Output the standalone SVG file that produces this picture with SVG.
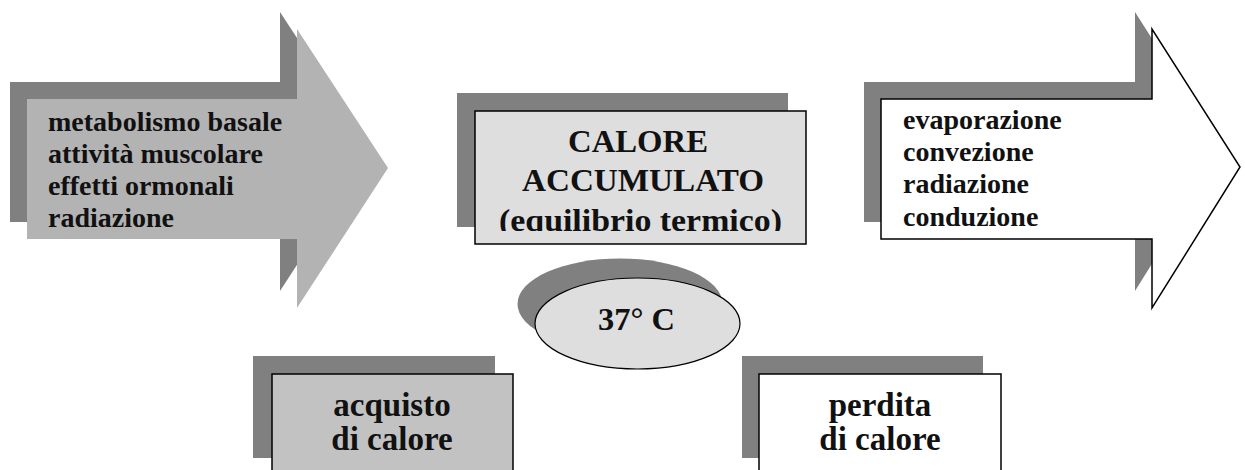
<svg xmlns="http://www.w3.org/2000/svg" width="1245" height="470" viewBox="0 0 1245 470">
  <style>
    .shadow { fill: #808080; stroke: none; }
    .t { font-family: "Liberation Serif", "Times New Roman", serif; font-weight: bold; fill: #111111; }
    .list { font-size: 28px; }
    .big { font-size: 31px; }
    .box { font-size: 33px; text-anchor: middle; }
  </style>
  <defs>
    <polygon id="arrowL" points="27,99 297,99 297,29 388,168 297,308 297,239 27,239"/>
    <polygon id="arrowR" points="881,99 1152,99 1152,29 1240,167 1152,308 1152,239 881,239"/>
    <clipPath id="clipCenter">
      <rect x="476" y="112" width="329" height="119"/>
    </clipPath>
  </defs>
  <rect width="1245" height="470" fill="#ffffff"/>

  <g id="input-arrow">
    <use href="#arrowL" class="shadow" transform="translate(-17,-17)"/>
    <use href="#arrowL" fill="#b3b3b3"/>
    <text class="t list" x="48" y="131">metabolismo basale</text>
    <text class="t list" x="48" y="163">attività muscolare</text>
    <text class="t list" x="48" y="195">effetti ormonali</text>
    <text class="t list" x="48" y="227">radiazione</text>
  </g>

  <g id="output-arrow">
    <use href="#arrowR" class="shadow" transform="translate(-17,-17)"/>
    <use href="#arrowR" fill="#ffffff" stroke="#000000" stroke-width="1.5"/>
    <text class="t list" x="903" y="129">evaporazione</text>
    <text class="t list" x="903" y="161">convezione</text>
    <text class="t list" x="903" y="193">radiazione</text>
    <text class="t list" x="903" y="226">conduzione</text>
  </g>

  <g id="calore-accumulato">
    <rect class="shadow" x="457" y="93" width="331" height="134"/>
    <rect x="475" y="111" width="331" height="133" fill="#dedede" stroke="#000000" stroke-width="1.5"/>
    <text class="t big" x="568" y="152" textLength="140" lengthAdjust="spacingAndGlyphs">CALORE</text>
    <text class="t big" x="522" y="191" textLength="242" lengthAdjust="spacingAndGlyphs">ACCUMULATO</text>
    <g clip-path="url(#clipCenter)">
      <text class="t big" x="499" y="231" textLength="283" lengthAdjust="spacingAndGlyphs">(equilibrio termico)</text>
    </g>
  </g>

  <g id="temperature">
    <ellipse class="shadow" cx="620" cy="304" rx="102.5" ry="45.5"/>
    <ellipse cx="637.5" cy="323.5" rx="102.5" ry="45.5" fill="#dedede" stroke="#000000" stroke-width="1.2"/>
    <text class="t" x="598" y="330" font-size="32" textLength="77" lengthAdjust="spacingAndGlyphs">37° C</text>
  </g>

  <g id="acquisto">
    <rect class="shadow" x="253" y="356" width="242" height="102"/>
    <rect x="272" y="374" width="241" height="110" fill="#c2c2c2" stroke="#000000" stroke-width="1.5"/>
    <text class="t box" x="392" y="416">acquisto</text>
    <text class="t box" x="392" y="450">di calore</text>
  </g>

  <g id="perdita">
    <rect class="shadow" x="742" y="356" width="241" height="102"/>
    <rect x="759" y="374" width="242" height="110" fill="#ffffff" stroke="#000000" stroke-width="1.5"/>
    <text class="t box" x="880" y="416">perdita</text>
    <text class="t box" x="880" y="450">di calore</text>
  </g>

  <g id="connectors"></g>
</svg>
